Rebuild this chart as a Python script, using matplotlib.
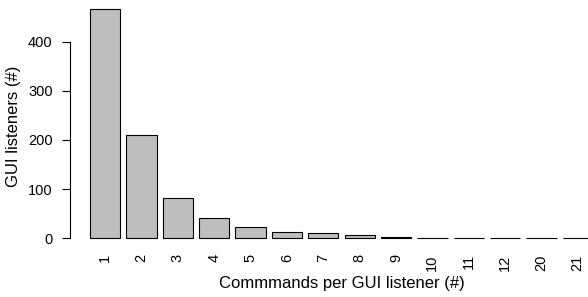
import numpy as np
import matplotlib
matplotlib.use("Agg")
import matplotlib.pyplot as plt

plt.rcParams['font.family'] = ['Liberation Sans', 'DejaVu Sans']

commands = ['1', '2', '3', '4', '5', '6', '7', '8', '9', '10', '11', '12', '20', '21']
listeners = [466, 211, 81, 41, 22, 13, 11, 7, 2, 1, 1, 1, 1, 1]

W, H = 588, 297
fig = plt.figure(figsize=(W/100, H/100), dpi=100)
# R-like plot region; it runs past the right edge of the image, as in the original crop
ax = fig.add_axes([70/W, 49.6/H, 543/W, 247.4/H])

# R barplot layout: width 1, space 0.2
pos = 0.2 + np.arange(len(commands))*1.2 + 0.5
ax.bar(pos, listeners, width=1.0, color='#bebebe', edgecolor='black', linewidth=0.8)

ax.set_xlim(-0.464, 17.464)
ax.set_ylim(-18.64, 484.64)

for s in ['top', 'right', 'bottom']:
    ax.spines[s].set_visible(False)
ax.spines['left'].set_bounds(0, 400)
ax.spines['left'].set_linewidth(0.8)

ax.set_yticks([0, 100, 200, 300, 400])
ax.tick_params(axis='y', length=6, width=0.8, pad=6.5, labelsize=10.5)
ax.set_xticks(pos)
ax.set_xticklabels(commands, rotation=90, va='top', ha='center')
ax.tick_params(axis='x', length=0, pad=5, labelsize=10.5)

fig.text(341.5/W, 1 - 288/H, 'Commmands per GUI listener (#)', ha='center', va='baseline', fontsize=12)
fig.text(14/W, 1 - 126/H, 'GUI listeners (#)', ha='center', va='center', rotation=90, fontsize=12)

fig.savefig('out.png', dpi=100)
